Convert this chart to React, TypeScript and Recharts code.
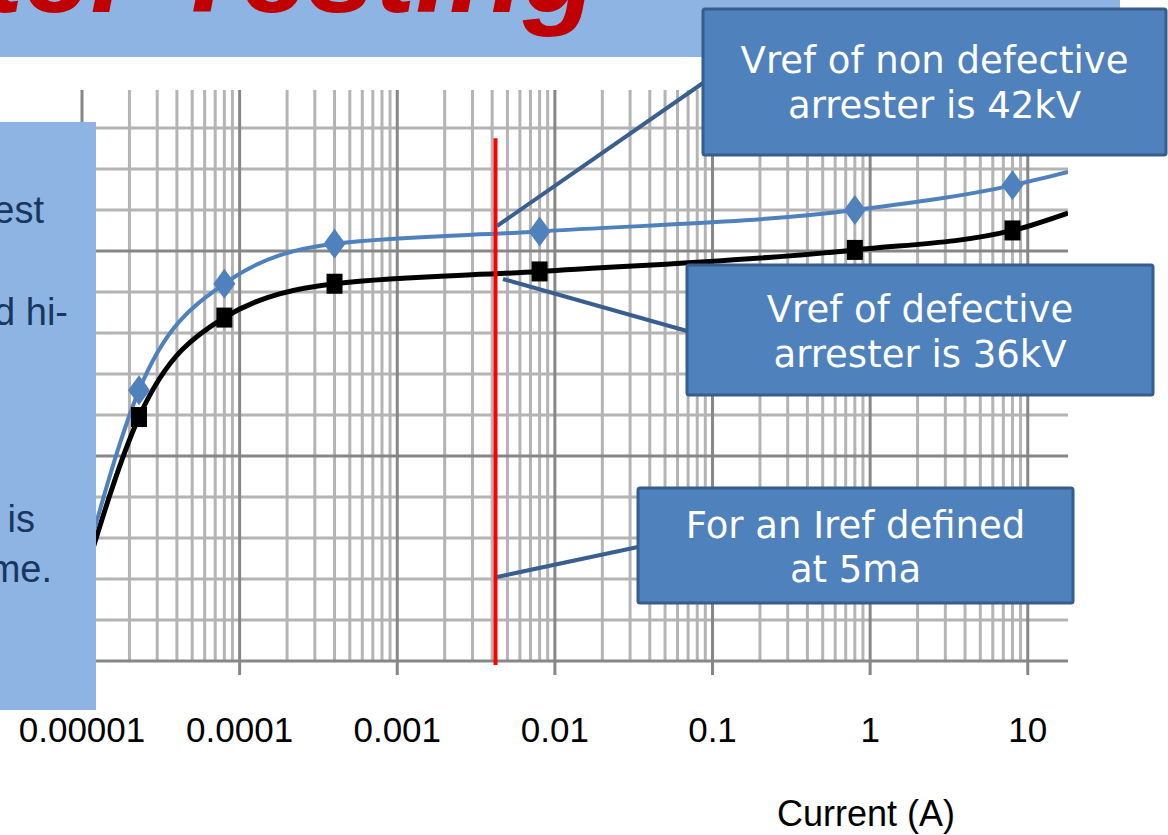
import React from 'react';
import { CartesianGrid, Line, LineChart, ReferenceLine, XAxis, YAxis } from 'recharts';

// current (A) on a log axis, reference voltage (kV)
const currentA = [1e-5, 2.3e-5, 8e-5, 4e-4, 8e-3, 0.8, 8, 18];
const vrefGood = [8.5, 26.4, 36.8, 40.7, 41.9, 44.0, 46.4, 47.7];
const vrefBad = [7.5, 23.8, 33.5, 36.8, 38.0, 40.1, 42.0, 43.7];

const decadeTicks = [1e-5, 1e-4, 1e-3, 1e-2, 1e-1, 1, 10];
const decadeLabels = ['0.00001', '0.0001', '0.001', '0.01', '0.1', '1', '10'];
const minorSteps = [2, 3, 4, 5, 6, 7, 8, 9];
const voltTicks = [0, 4, 8, 12, 16, 20, 24, 28, 32, 36, 40, 44, 48, 52];
const voltMajor = [0, 20, 40];
const irefA = 0.0042;

const minorCurrent = decadeTicks.slice(0, 6).flatMap((d) => minorSteps.map((m) => +(d * m).toPrecision(3)));
const minorVolt = voltTicks.filter((v) => !voltMajor.includes(v));

const data = currentA.map((a, i) => ({ a, good: vrefGood[i], bad: vrefBad[i] }));
const lastIndex = currentA.length - 1;

const W = 1168;
const H = 835;

const blue = '#4f81bd';
const boxStroke = '#385d8a';
const leader = '#3a5f8e';

function Diamond(props: any) {
  const { cx, cy, index } = props;
  if (index === lastIndex || cx == null) return <g key={`d${index}`} />;
  return <polygon key={`d${index}`} points={`${cx},${cy - 15} ${cx + 11},${cy} ${cx},${cy + 15} ${cx - 11},${cy}`} fill={blue} />;
}

function Square(props: any) {
  const { cx, cy, index } = props;
  if (index === lastIndex || cx == null) return <g key={`s${index}`} />;
  return <rect key={`s${index}`} x={cx - 8} y={cy - 10} width={16} height={20} fill="#000" />;
}

function Callout({ x, y, w, h, lines, baselines }: { x: number; y: number; w: number; h: number; lines: string[]; baselines: number[] }) {
  return (
    <g>
      <rect x={x} y={y} width={w} height={h} rx={2} fill={blue} stroke={boxStroke} strokeWidth={3} />
      {lines.map((t, i) => (
        <text key={t} x={x + w / 2} y={baselines[i]} textAnchor="middle" fill="#fff" fontFamily="DejaVu Sans, Verdana, sans-serif" fontSize={37}>
          {t}
        </text>
      ))}
    </g>
  );
}

export default function App() {
  return (
    <div style={{ position: 'absolute', left: 0, top: 0, width: W, height: H, background: '#fff', overflow: 'hidden' }}>
      <LineChart width={W} height={H} data={data} margin={{ top: 90, right: 100, bottom: 94, left: 82 }}>
        <CartesianGrid verticalValues={minorCurrent} horizontalValues={minorVolt} stroke="#b4b4b4" strokeWidth={3} />
        <CartesianGrid verticalValues={decadeTicks} horizontalValues={voltMajor} stroke="#878787" strokeWidth={3} />
        <XAxis
          dataKey="a"
          type="number"
          scale="log"
          domain={[1e-5, 18]}
          allowDataOverflow
          ticks={decadeTicks}
          tickFormatter={(v: number) => decadeLabels[decadeTicks.findIndex((d) => Math.abs(d - v) < d * 1e-6)] ?? ''}
          height={80}
          axisLine={false}
          tickSize={14}
          tickLine={{ stroke: '#878787', strokeWidth: 3 }}
          tickMargin={42}
          tick={{ fill: '#000', fontSize: 35, fontFamily: 'Liberation Sans, Arial, sans-serif' }}
          interval={0}
        />
        <YAxis type="number" domain={[0, 55.7]} ticks={voltTicks} allowDataOverflow hide />
        <Line dataKey="bad" type="monotone" stroke="#000" strokeWidth={5} dot={Square} isAnimationActive={false} />
        <Line dataKey="good" type="monotone" stroke={blue} strokeWidth={4} dot={Diamond} isAnimationActive={false} />
        <ReferenceLine
          segment={[{ x: irefA, y: -0.4 }, { x: irefA, y: 51 }]}
          stroke="#ff0000"
          strokeWidth={4}
          ifOverflow="visible"
          zIndex={1000}
        />
      </LineChart>

      <svg width={W} height={H} style={{ position: 'absolute', left: 0, top: 0, pointerEvents: 'none' }}>
        <rect x={0} y={0} width={1120} height={57} fill="#8eb4e3" />
        <text x={597} y={12} textAnchor="end" fill="#c00000" fontFamily="Liberation Sans, Arial, sans-serif" fontWeight="bold" fontStyle="italic" fontSize={121}>
          Arrester Testing
        </text>

        <rect x={0} y={122} width={96} height={588} fill="#8eb4e3" />
        <g fill="#17375e" fontFamily="Liberation Sans, Arial, sans-serif" fontSize={38} textAnchor="end">
          <text x={44} y={223}>est</text>
          <text x={68} y={325}>d hi-</text>
          <text x={35} y={532}>is</text>
          <text x={52} y={582}>me.</text>
        </g>

        <g stroke={leader} strokeWidth={4}>
          <line x1={497} y1={226} x2={703} y2={83} />
          <line x1={503} y1={279} x2={687} y2={331} />
          <line x1={497} y1={577} x2={638} y2={547} />
        </g>

        <Callout x={703} y={9} w={463} h={146} lines={['Vref of non defective', 'arrester is 42kV']} baselines={[73, 118]} />
        <Callout x={687} y={265} w={466} h={130} lines={['Vref of defective', 'arrester is 36kV']} baselines={[322, 367]} />
        <Callout x={638} y={488} w={435} h={115} lines={['For an Iref defined', 'at 5ma']} baselines={[538, 582]} />

        <text x={777} y={826} fill="#000" fontFamily="Liberation Sans, Arial, sans-serif" fontSize={36}>
          Current (A)
        </text>
      </svg>
    </div>
  );
}
